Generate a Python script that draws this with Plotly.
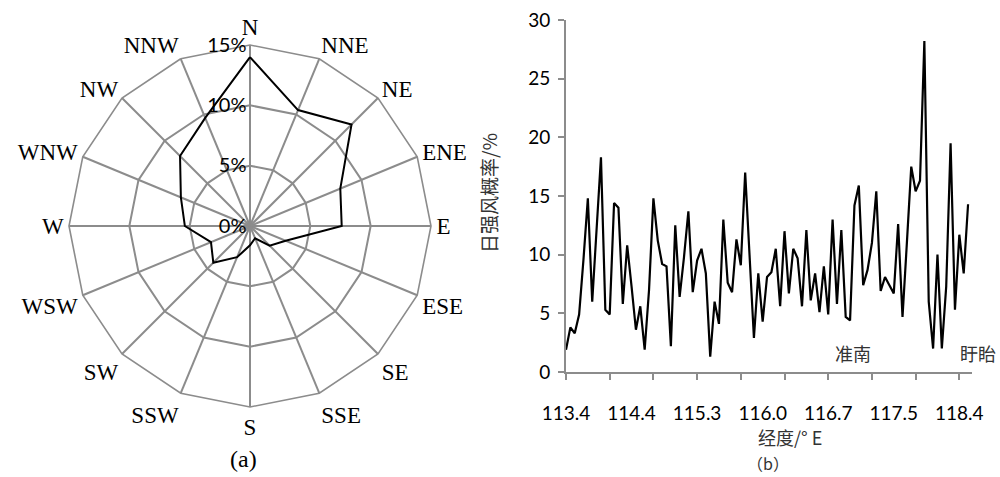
import plotly.graph_objects as go

# ---- data: (a) wind rose ----
directions = ["N", "NNE", "NE", "ENE", "E", "ESE", "SE", "SSE",
              "S", "SSW", "SW", "WSW", "W", "WNW", "NW", "NNW"]
rose_pct = [14.0, 10.4, 11.9, 8.1, 7.6, 3.2, 2.3, 1.1,
            1.6, 2.8, 4.3, 3.5, 5.4, 6.2, 8.2, 9.7]
radial_ticks = [0, 5, 10, 15]
radial_text = ["0%", "5%", "10%", "15%"]

# ---- data: (b) strong-wind probability by station (sorted by longitude) ----
prob = [1.9, 3.8, 3.3, 4.9, 9.6, 14.8, 6.0, 12.0, 18.3, 5.3,
        4.9, 14.4, 14.0, 5.8, 10.8, 7.3, 3.6, 5.6, 1.9, 7.0,
        14.8, 11.2, 9.2, 9.0, 2.2, 12.5, 6.4, 9.8, 13.7, 6.8,
        9.5, 10.5, 8.4, 1.3, 6.0, 4.1, 13.0, 7.6, 6.8, 11.3,
        9.1, 17.0, 10.0, 2.9, 8.4, 4.3, 8.1, 8.5, 10.5, 5.6,
        12.0, 6.7, 10.5, 9.7, 5.6, 12.1, 6.1, 8.4, 5.1, 9.0,
        4.9, 13.0, 5.8, 12.1, 4.7, 4.4, 14.2, 15.9, 7.4, 8.7,
        11.0, 15.4, 6.9, 8.1, 7.4, 6.7, 12.6, 4.7, 11.0, 17.5,
        15.4, 16.3, 28.2, 6.0, 2.0, 10.0, 2.0, 7.3, 19.5, 5.3,
        11.7, 8.4, 14.3]
station_idx = list(range(len(prob)))
lon_label_idx = [0, 15, 30, 45, 60, 75, 90]
lon_labels = ["113.4", "114.4", "115.3", "116.0", "116.7", "117.5", "118.4"]
minor_tick_idx = [0, 10, 20, 30, 40, 50, 60, 70, 80, 90]
y_ticks = [0, 5, 10, 15, 20, 25, 30]

GRAY = "#8c8c8c"
W, H = 1000, 477

fig = go.Figure()

fig.add_trace(go.Scatterpolar(
    r=rose_pct + [rose_pct[0]],
    theta=directions + [directions[0]],
    mode="lines",
    line=dict(color="black", width=2),
    showlegend=False,
    hoverinfo="skip",
))

fig.add_trace(go.Scatter(
    x=station_idx, y=prob, mode="lines",
    line=dict(color="black", width=2.2),
    showlegend=False, xaxis="x", yaxis="y",
))


def label(text, x, y, size, family="Noto Sans CJK SC", color="#333", angle=0):
    return dict(text=text, xref="paper", yref="paper", x=x / W, y=1 - y / H,
                xanchor="center", yanchor="middle", showarrow=False, textangle=angle,
                font=dict(family=family, size=size, color=color))


fig.update_layout(
    width=W, height=H,
    margin=dict(l=0, r=0, t=0, b=0, pad=0),
    paper_bgcolor="white",
    plot_bgcolor="white",
    polar=dict(
        domain=dict(x=[69 / W, 431 / W], y=[1 - 407 / H, 1 - 45 / H]),
        bgcolor="white",
        gridshape="linear",
        angularaxis=dict(
            type="category",
            categoryarray=directions,
            direction="clockwise",
            rotation=90,
            showline=True, linecolor=GRAY, linewidth=1.6,
            showgrid=True, gridcolor=GRAY, gridwidth=1.6,
            ticks="",
            tickfont=dict(family="Liberation Serif", size=23, color="black"),
        ),
        radialaxis=dict(
            range=[0, 15],
            angle=90,
            tickangle=90,
            side="counterclockwise",
            tickmode="array",
            tickvals=radial_ticks,
            ticktext=radial_text,
            showline=False,
            ticks="",
            showgrid=True, gridcolor=GRAY, gridwidth=1.6,
            tickfont=dict(family="Lato", size=20, color="black"),
        ),
    ),
    xaxis=dict(
        domain=[566 / W, 972 / W],
        range=[0, 92.9],
        automargin=False,
        showgrid=False, zeroline=False,
        showline=True, linecolor=GRAY, linewidth=1.6,
        tickmode="array", tickvals=lon_label_idx, ticktext=lon_labels,
        ticks="",
        ticklabelstandoff=23,
        minor=dict(tickmode="array", tickvals=minor_tick_idx, ticks="outside",
                   ticklen=6, tickcolor=GRAY, tickwidth=1.6, showgrid=False),
        tickfont=dict(family="Lato", size=19, color="black"),
        anchor="y",
    ),
    yaxis=dict(
        domain=[1 - 372 / H, 1 - 20 / H],
        range=[0, 30],
        automargin=False,
        showgrid=False, zeroline=False,
        showline=True, linecolor=GRAY, linewidth=1.6,
        tickmode="array", tickvals=y_ticks,
        ticks="outside", ticklen=6, tickcolor=GRAY, tickwidth=1.6,
        ticklabelstandoff=4,
        tickfont=dict(family="Lato", size=19, color="black"),
        anchor="x",
    ),
    annotations=[
        label("(a)", 243, 459, 24, family="Liberation Serif", color="black"),
        label("（b）", 768, 463, 16),
        label("经度/° E", 790, 437, 18),
        label("日强风概率/%", 488, 193, 19, angle=-90),
        label("准南", 853, 353, 18),
        label("盱眙", 978, 353, 18),
    ],
)

fig.write_html("out.html")
